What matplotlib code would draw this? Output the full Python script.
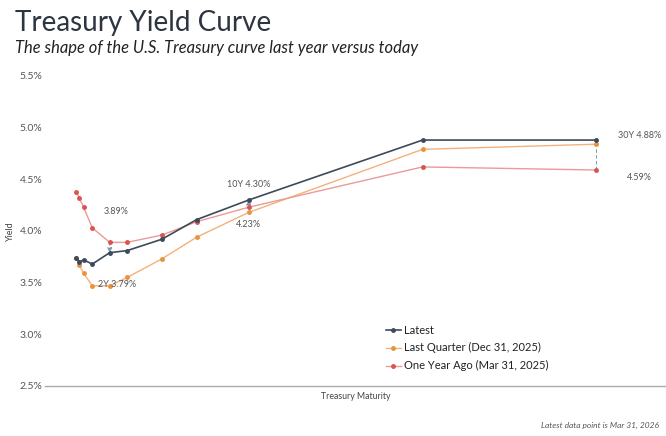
import numpy as np
import matplotlib
matplotlib.use("Agg")
import matplotlib.pyplot as plt

plt.rcParams['font.family'] = ['Lato', 'DejaVu Sans']

# maturities in years: 1M 3M 6M 1Y 2Y 3Y 5Y 7Y 10Y 20Y 30Y
maturity = [1/12, 0.25, 0.5, 1, 2, 3, 5, 7, 10, 20, 30]
latest = [3.74, 3.70, 3.72, 3.68, 3.79, 3.81, 3.92, 4.11, 4.30, 4.88, 4.88]
last_quarter = [3.74, 3.67, 3.59, 3.47, 3.47, 3.55, 3.73, 3.94, 4.18, 4.79, 4.84]
year_ago = [4.38, 4.32, 4.23, 4.03, 3.89, 3.89, 3.96, 4.09, 4.23, 4.62, 4.59]

yticks = [2.5, 3.0, 3.5, 4.0, 4.5, 5.0, 5.5]

c_latest = '#3c4a5b'
c_lq = '#e8933d'
c_ya = '#d9534f'

fig = plt.figure(figsize=(6.66, 4.36), dpi=100)
ax = fig.add_axes([0.0676, 0.1147, 0.9324, 0.711])

ax.plot(maturity, latest, color=c_latest, lw=1.2, marker='o', ms=2.5, label='Latest', zorder=4)
ax.plot(maturity, last_quarter, color='#f2b27a', lw=1.0, marker='o', ms=2.5,
        mfc=c_lq, mec=c_lq, label='Last Quarter (Dec 31, 2025)', zorder=3)
ax.plot(maturity, year_ago, color='#eb9a98', lw=1.0, marker='o', ms=2.5,
        mfc=c_ya, mec=c_ya, label='One Year Ago (Mar 31, 2025)', zorder=3)

# change arrows from one year ago to latest at 2Y, 10Y, 30Y
for i in [4, 8, 10]:
    ax.annotate('', xy=(maturity[i], latest[i]), xytext=(maturity[i], year_ago[i]),
                arrowprops=dict(arrowstyle='-|>', color='#8395a8', lw=0.7,
                                linestyle=(0, (3, 3)), mutation_scale=7,
                                shrinkA=0, shrinkB=0), zorder=2)

lab = dict(fontsize=6.5, color='#555555', ha='center', va='center', textcoords='offset pixels')
ax.annotate('%.2f%%' % year_ago[4], (maturity[4], year_ago[4]), xytext=(6, 31), **lab)
ax.annotate('2Y %.2f%%' % latest[4], (maturity[4], latest[4]), xytext=(7, -32), **lab)
ax.annotate('10Y %.2f%%' % latest[8], (maturity[8], latest[8]), xytext=(0, 15), **lab)
ax.annotate('%.2f%%' % year_ago[8], (maturity[8], year_ago[8]), xytext=(0, -17), **lab)
ax.annotate('30Y %.2f%%' % latest[10], (maturity[10], latest[10]), xytext=(43, 5), **lab)
ax.annotate('%.2f%%' % year_ago[10], (maturity[10], year_ago[10]), xytext=(43, -7), **lab)

ax.set_xlim(-1.72, 34.0)
ax.set_ylim(2.5, 5.5)
ax.set_yticks(yticks)
ax.set_yticklabels(['%.1f%%' % v for v in yticks])
ax.set_xticks([])
ax.tick_params(axis='y', length=0, pad=2, labelsize=7.5, labelcolor='#555555')
for s in ['top', 'right', 'left']:
    ax.spines[s].set_visible(False)
ax.spines['bottom'].set_color('#aaaaaa')
ax.spines['bottom'].set_linewidth(1.0)

ax.set_xlabel('Treasury Maturity', fontsize=6.3, color='#444444', labelpad=4)
ax.set_ylabel('Yield', fontsize=6.5, color='#444444', labelpad=3)

fig.text(0.0225, 0.948, 'Treasury Yield Curve', fontsize=20, color='#2d3540', va='center')
fig.text(0.0225, 0.889, 'The shape of the U.S. Treasury curve last year versus today',
         fontsize=11.9, style='italic', color='#222222', va='center')
fig.text(0.99, 0.025, 'Latest data point is Mar 31, 2026', fontsize=6, style='italic',
         color='#555555', ha='right', va='center')

leg = ax.legend(loc='upper left', bbox_to_anchor=(380/666, 1 - 319/436),
                bbox_transform=fig.transFigure, frameon=False, fontsize=8,
                handlelength=1.4, handletextpad=0.3, labelspacing=0.62, borderpad=0)
for t in leg.get_texts():
    t.set_color('#222222')

fig.savefig('out.png', dpi=100)
